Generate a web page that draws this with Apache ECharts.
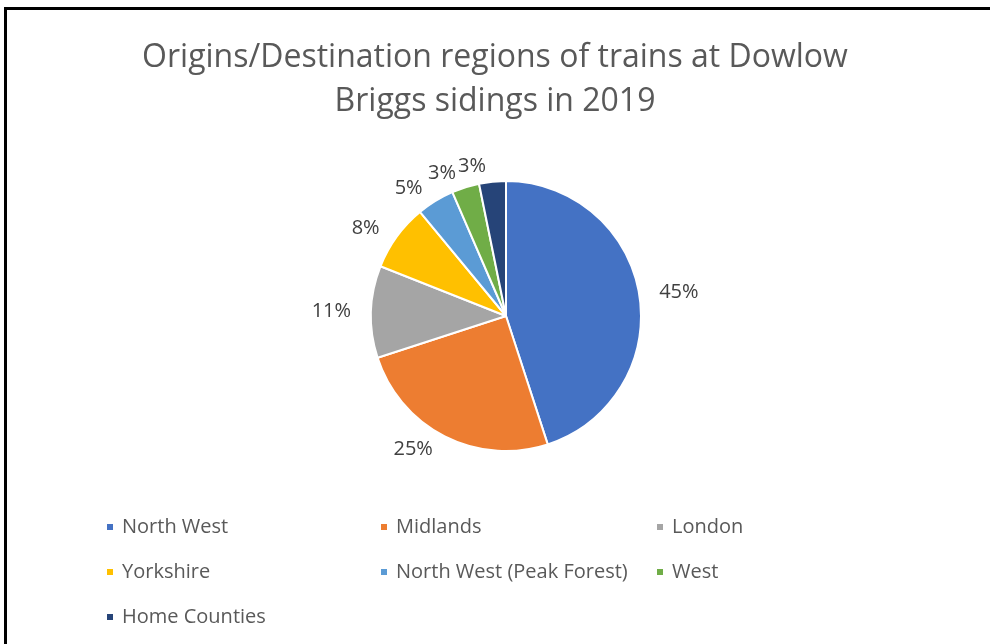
<!DOCTYPE html>
<html>
<head>
<meta charset="utf-8">
<script src="https://cdn.jsdelivr.net/npm/echarts@6/dist/echarts.min.js"></script>
<style>
  html, body { margin: 0; padding: 0; background: #fff; }
  #chart { width: 990px; height: 644px; }
</style>
</head>
<body>
<div id="chart"></div>
<script>
// regions and their share of trains (%)
var regions = ['North West', 'Midlands', 'London', 'Yorkshire', 'North West (Peak Forest)', 'West', 'Home Counties'];
var shares = [45, 25, 11, 8, 4.5, 3.3, 3.2];
var colours = ['#4472C4', '#ED7D31', '#A5A5A5', '#FFC000', '#5B9BD5', '#70AD47', '#264478'];

// legend columns, as laid out in the picture
var legendCols = [
  ['North West', 'Yorkshire', 'Home Counties'],
  ['Midlands', 'North West (Peak Forest)'],
  ['London', 'West']
];
var legendLeft = [100, 374, 650];

var font = 'Open Sans';

var pieData = regions.map(function (r, i) {
  return { name: r, value: shares[i], itemStyle: { color: colours[i] } };
});

var legends = legendCols.map(function (col, i) {
  return {
    data: col,
    orient: 'vertical',
    left: legendLeft[i],
    top: 510,
    icon: 'rect',
    itemWidth: 8,
    itemHeight: 8,
    itemGap: 21,
    selectedMode: false,
    textStyle: { fontFamily: font, fontSize: 20, color: '#595959', padding: [0, 0, 0, 3], lineHeight: 24 }
  };
});

var myChart = echarts.init(document.getElementById('chart'));
var option = {
  backgroundColor: '#fff',
  animation: false,
  title: {
    text: 'Origins/Destination regions of trains at Dowlow\nBriggs sidings in 2019',
    left: 'center',
    top: 31,
    textStyle: { fontFamily: font, fontSize: 32, fontWeight: 'normal', color: '#595959', lineHeight: 44 }
  },
  legend: legends,
  graphic: [{
    type: 'rect',
    shape: { x: 5.5, y: 8.5, width: 1100, height: 800 },
    style: { fill: 'none', stroke: '#000', lineWidth: 3 }
  }],
  series: [{
    type: 'pie',
    center: [506, 316],
    radius: 135,
    startAngle: 90,
    clockwise: true,
    percentPrecision: 0,
    avoidLabelOverlap: false,
    itemStyle: { borderColor: '#fff', borderWidth: 2 },
    label: {
      show: true,
      position: 'outside',
      formatter: '{d}%',
      fontFamily: font,
      fontSize: 20,
      color: '#404040'
    },
    labelLine: { show: false, length: 15, length2: 0 },
    data: pieData
  }]
};
myChart.setOption(option);
</script>
</body>
</html>
